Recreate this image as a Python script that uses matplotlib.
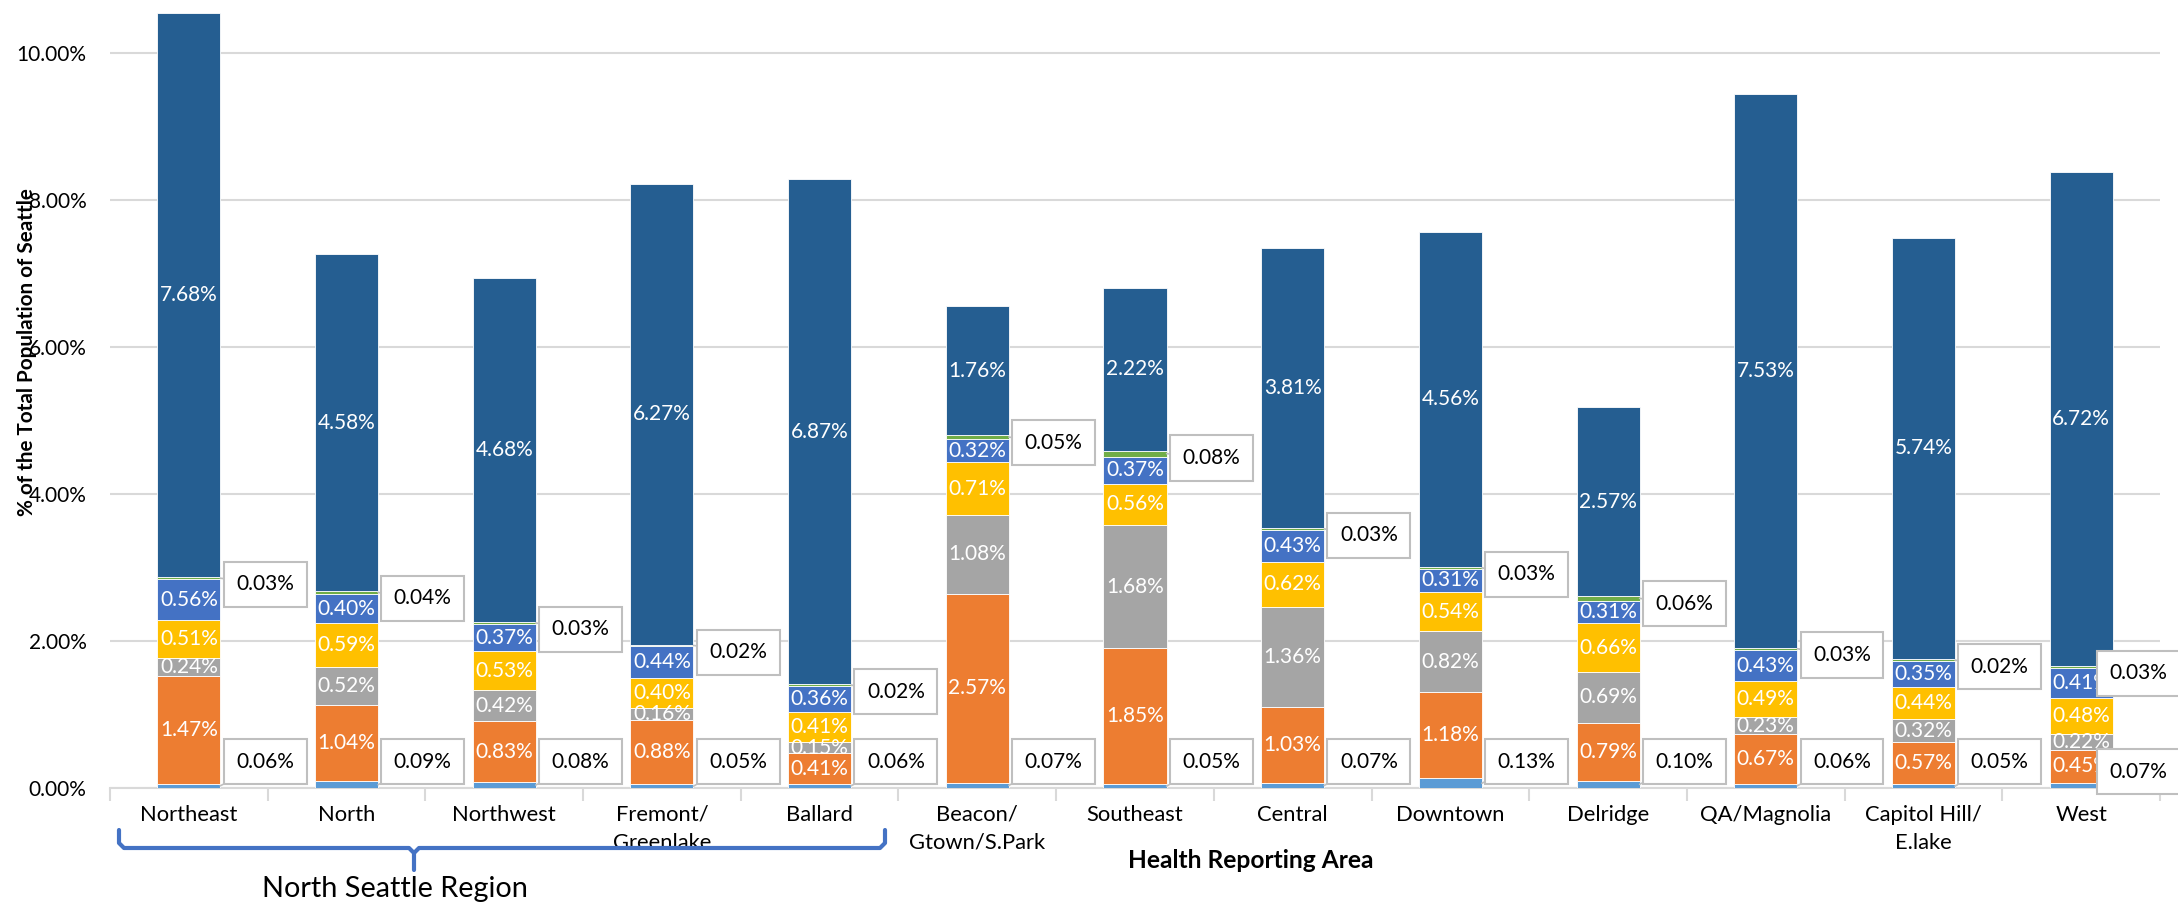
import matplotlib
matplotlib.use("Agg")
import matplotlib.pyplot as plt
from matplotlib.lines import Line2D
from matplotlib.ticker import FuncFormatter
import numpy as np

plt.rcParams['font.family'] = ['Lato', 'DejaVu Sans']

areas = ["Northeast", "North", "Northwest", "Fremont/\nGreenlake", "Ballard",
         "Beacon/\nGtown/S.Park", "Southeast", "Central", "Downtown", "Delridge",
         "QA/Magnolia", "Capitol Hill/\nE.lake", "West"]

# stacked from bottom to top
s1 = [0.06, 0.09, 0.08, 0.05, 0.06, 0.07, 0.05, 0.07, 0.13, 0.10, 0.06, 0.05, 0.07]
s2 = [1.47, 1.04, 0.83, 0.88, 0.41, 2.57, 1.85, 1.03, 1.18, 0.79, 0.67, 0.57, 0.45]
s3 = [0.24, 0.52, 0.42, 0.16, 0.15, 1.08, 1.68, 1.36, 0.82, 0.69, 0.23, 0.32, 0.22]
s4 = [0.51, 0.59, 0.53, 0.40, 0.41, 0.71, 0.56, 0.62, 0.54, 0.66, 0.49, 0.44, 0.48]
s5 = [0.56, 0.40, 0.37, 0.44, 0.36, 0.32, 0.37, 0.43, 0.31, 0.31, 0.43, 0.35, 0.41]
s6 = [0.03, 0.04, 0.03, 0.02, 0.02, 0.05, 0.08, 0.03, 0.03, 0.06, 0.03, 0.02, 0.03]
s7 = [7.68, 4.58, 4.68, 6.27, 6.87, 1.76, 2.22, 3.81, 4.56, 2.57, 7.53, 5.74, 6.72]

series = [s1, s2, s3, s4, s5, s6, s7]
colors = ["#5B9BD5", "#ED7D31", "#A5A5A5", "#FFC000", "#4472C4", "#70AD47", "#255E91"]
inside = [False, True, True, True, True, False, True]

W, H = 2178, 909
fig = plt.figure(figsize=(W / 100, H / 100), dpi=100)
rend = fig.canvas.get_renderer()


def size_for(s, target_px, weight="normal"):
    # font size that makes string s about target_px wide
    t = fig.text(0, 0, s, fontsize=20, fontweight=weight)
    w = t.get_window_extent(rend).width
    t.remove()
    return 20 * target_px / w


fs_tick = size_for("10.00%", 70)
fs_cat = size_for("Southeast", 97)
fs_lab = size_for("0.56%", 58)
fs_x = size_for("Health Reporting Area", 245, "bold")
fs_y = size_for("% of the Total Population of Seattle", 327, "bold")
fs_reg = size_for("North Seattle Region", 267)

ax = fig.add_axes([110 / W, 1 - 788 / H, 2050 / W, 779 / H])

x = np.arange(len(areas))
bw = 0.40
bottom = np.zeros(len(areas))
for vals, c, lab in zip(series, colors, inside):
    vals = np.array(vals)
    ax.bar(x, vals, bw, bottom=bottom, color=c, edgecolor="white", linewidth=0.6, zorder=3)
    if lab:
        for i in range(len(x)):
            ax.text(x[i], bottom[i] + vals[i] / 2, "%.2f%%" % vals[i], color="white",
                    ha="center", va="center", fontsize=fs_lab, zorder=4)
    bottom += vals

# callouts for the thin segments
box = dict(boxstyle="square,pad=0.6", fc="white", ec="#BFBFBF", lw=1.5)
arr = dict(arrowstyle="-", color="#BFBFBF", lw=1.2, shrinkA=0, shrinkB=0)
cum = np.cumsum(np.array(series), axis=0)
xmax_txt = 12.18  # keep the last boxes inside the figure
for i in range(len(x)):
    xr = x[i] + bw / 2
    tx = min(xr + 0.1, xmax_txt)
    ybot = 0.36 if tx == xr + 0.1 else 0.22
    ax.annotate("%.2f%%" % s1[i], xy=(xr, s1[i] / 2), xytext=(tx, ybot),
                ha="left", va="center", fontsize=fs_lab, bbox=box, arrowprops=arr, zorder=5)
    gtop = cum[5][i]
    ax.annotate("%.2f%%" % s6[i], xy=(xr, gtop - s6[i] / 2), xytext=(tx, gtop - 0.1),
                ha="left", va="center", fontsize=fs_lab, bbox=box, arrowprops=arr, zorder=5)

ax.set_xlim(-0.5, len(areas) - 0.5)
ax.set_ylim(0, 10.6)
ax.set_yticks([0, 2, 4, 6, 8, 10])
ax.yaxis.set_major_formatter(FuncFormatter(lambda v, p: "%.2f%%" % v))
ax.grid(axis="y", color="#D9D9D9", lw=1.5, zorder=0)
ax.set_axisbelow(True)
for s in ["top", "right", "left"]:
    ax.spines[s].set_visible(False)
ax.spines["bottom"].set_color("#D9D9D9")
ax.spines["bottom"].set_linewidth(1.5)
ax.tick_params(axis="y", length=0, pad=17, labelsize=fs_tick)
ax.set_xticks(x)
ax.set_xticklabels(areas, linespacing=1.5)
ax.tick_params(axis="x", length=0, pad=12, labelsize=fs_cat)
ax.set_xticks(np.arange(-0.5, len(areas)), minor=True)
ax.tick_params(axis="x", which="minor", length=9, width=1.5, color="#D9D9D9")


def fx(px):
    return px / W


def fy(py):
    return 1 - py / H


fig.text(fx(1251), fy(860), "Health Reporting Area", fontsize=fs_x, fontweight="bold",
         ha="center", va="center")
fig.text(fx(27), fy(352), "% of the Total Population of Seattle", fontsize=fs_y,
         fontweight="bold", rotation=90, ha="center", va="center")

# brace under the North Seattle areas (figure pixel coords)
left = [(119, 830), (119, 843), (124, 848), (409, 848), (414, 853), (414, 870)]
right = [(414, 853), (419, 848), (880, 848), (885, 843), (885, 830)]
for pts in [left, right]:
    fig.add_artist(Line2D([fx(p[0]) for p in pts], [fy(p[1]) for p in pts],
                          color="#4472C4", lw=3, solid_capstyle="round"))
fig.text(fx(395), fy(889), "North Seattle Region", fontsize=fs_reg, ha="center", va="center")

fig.savefig("out.png", dpi=100)
